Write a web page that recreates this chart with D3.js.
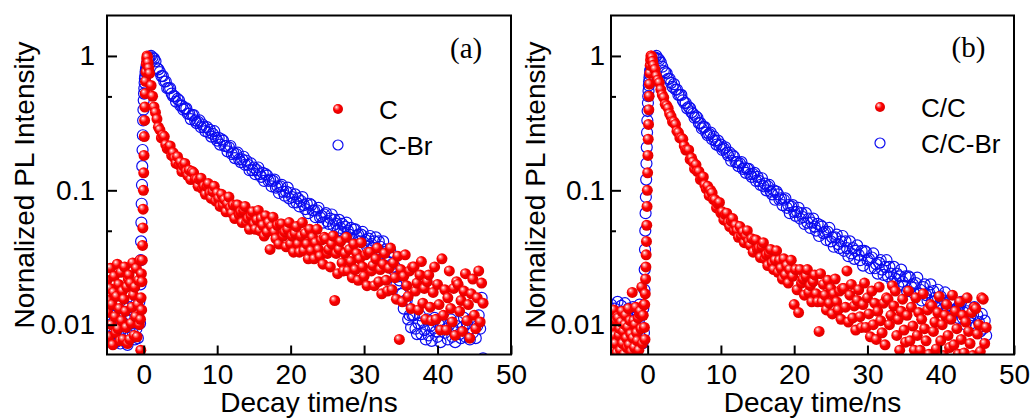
<!DOCTYPE html>
<html>
<head>
<meta charset="utf-8">
<title>PL decay</title>
<script src="https://d3js.org/d3.v7.min.js"></script>
<style>
  body { margin: 0; background: #fff; }
  svg { display: block; }
  .axis text { font-family: "Liberation Sans", Arial, sans-serif; font-size: 28px; fill: #000; }
  .axis line { stroke: #000; stroke-width: 2px; }
  .axis path { display: none; }
  .title { font-family: "Liberation Sans", Arial, sans-serif; font-size: 28px; fill: #000; }
  .legend { font-family: "Liberation Sans", Arial, sans-serif; font-size: 26px; fill: #000; }
  .letter { font-family: "Liberation Serif", "Times New Roman", serif; font-size: 29px; fill: #000; }
</style>
</head>
<body>
<svg id="chart" width="1033" height="419"></svg>
<script>
// time axis shared by all four decays (ns)
var times = [
  -5, -4.9, -4.8, -4.7, -4.6, -4.5, -4.4, -4.3, -4.2, -4.1, -4, -3.9, -3.8, -3.7, -3.6, -3.5,
  -3.4, -3.3, -3.2, -3.1, -3, -2.9, -2.8, -2.7, -2.6, -2.5, -2.4, -2.3, -2.2, -2.1, -2, -1.9,
  -1.8, -1.7, -1.6, -1.5, -1.4, -1.3, -1.2, -1.1, -1, -0.9, -0.8, -0.7, -0.6, -0.5,
  -0.44, -0.4, -0.36, -0.32, -0.28, -0.24, -0.2, -0.16, -0.12, -0.08, -0.04, 0, 0.04, 0.08, 0.12, 0.16,
  0.2, 0.25, 0.3, 0.35, 0.4, 0.45, 0.5, 0.6, 0.7,
  0.8, 1, 1.2, 1.4, 1.6, 1.8, 2, 2.2, 2.4, 2.6,
  2.8, 3, 3.2, 3.4, 3.6, 3.8, 4, 4.2, 4.4, 4.6,
  4.8, 5, 5.2, 5.4, 5.6, 5.8, 6, 6.2, 6.4, 6.6,
  6.8, 7, 7.2, 7.4, 7.6, 7.8, 8, 8.2, 8.4, 8.6,
  8.8, 9, 9.2, 9.4, 9.6, 9.8, 10, 10.2, 10.4, 10.6,
  10.8, 11, 11.2, 11.4, 11.6, 11.8, 12, 12.2, 12.4, 12.6,
  12.8, 13, 13.2, 13.4, 13.6, 13.8, 14, 14.2, 14.4, 14.6,
  14.8, 15, 15.2, 15.4, 15.6, 15.8, 16, 16.2, 16.4, 16.6,
  16.8, 17, 17.2, 17.4, 17.6, 17.8, 18, 18.2, 18.4, 18.6,
  18.8, 19, 19.2, 19.4, 19.6, 19.8, 20, 20.2, 20.4, 20.6,
  20.8, 21, 21.2, 21.4, 21.6, 21.8, 22, 22.2, 22.4, 22.6,
  22.8, 23, 23.2, 23.4, 23.6, 23.8, 24, 24.2, 24.4, 24.6,
  24.8, 25, 25.2, 25.4, 25.6, 25.8, 26, 26.2, 26.4, 26.6,
  26.8, 27, 27.2, 27.4, 27.6, 27.8, 28, 28.2, 28.4, 28.6,
  28.8, 29, 29.2, 29.4, 29.6, 29.8, 30, 30.2, 30.4, 30.6,
  30.8, 31, 31.2, 31.4, 31.6, 31.8, 32, 32.2, 32.4, 32.6,
  32.8, 33, 33.2, 33.4, 33.6, 33.8, 34, 34.2, 34.4, 34.6,
  34.8, 35, 35.2, 35.4, 35.6, 35.8, 36, 36.2, 36.4, 36.6,
  36.8, 37, 37.2, 37.4, 37.6, 37.8, 38, 38.2, 38.4, 38.6,
  38.8, 39, 39.2, 39.4, 39.6, 39.8, 40, 40.2, 40.4, 40.6,
  40.8, 41, 41.2, 41.4, 41.6, 41.8, 42, 42.2, 42.4, 42.6,
  42.8, 43, 43.2, 43.4, 43.6, 43.8, 44, 44.2, 44.4, 44.6,
  44.8, 45, 45.2, 45.4, 45.6, 45.8, 46, 46.2
];

// log10 of normalized PL intensity
// panel (a): C
var cLog = [
  -1.67, -1.91, -1.82, -2.09, -1.73, -1.58, -2.00, -1.85, -2.15, -1.76, -1.64, -1.94, -2.06, -1.79, -1.55, -2.03,
  -1.70, -1.88, -2.12, -1.61, -1.97, -1.75, -2.11, -1.81, -1.57, -1.90, -2.02, -1.72, -2.14, -1.66, -1.63, -2.11,
  -1.69, -1.99, -1.87, -1.54, -1.78, -2.08, -1.72, -1.94, -1.58, -2.09, -1.85, -1.67, -2.00, -1.52,
  -1.96, -2.19, -1.80, -1.62, -1.89, -1.68, -1.52, -1.41, -1.28, -1.14, -1.00, -0.87, -0.74, -0.60, -0.48, -0.38,
  -0.28, -0.19, -0.12, -0.06, -0.02, 0.00, -0.01, -0.05, -0.09,
  -0.13, -0.22, -0.30, -0.38, -0.42, -0.47, -0.53, -0.55, -0.61, -0.59,
  -0.60, -0.66, -0.69, -0.68, -0.67, -0.74, -0.72, -0.76, -0.80, -0.75,
  -0.81, -0.79, -0.86, -0.82, -0.80, -0.86, -0.89, -0.85, -0.92, -0.86,
  -0.87, -0.92, -0.92, -0.97, -0.92, -0.91, -0.99, -0.97, -1.03, -0.97,
  -0.95, -1.02, -1.06, -1.01, -0.97, -1.08, -1.02, -1.06, -1.12, -1.03,
  -1.11, -1.07, -1.16, -1.10, -1.05, -1.13, -1.17, -1.11, -1.21, -1.11,
  -1.11, -1.18, -1.16, -1.24, -1.15, -1.12, -1.24, -1.21, -1.29, -1.19,
  -1.16, -1.25, -1.29, -1.22, -1.15, -1.30, -1.21, -1.26, -1.34, -1.19,
  -1.31, -1.24, -1.44, -1.27, -1.20, -1.31, -1.36, -1.26, -1.40, -1.25,
  -1.25, -1.34, -1.31, -1.42, -1.29, -1.24, -1.40, -1.34, -1.46, -1.32,
  -1.27, -1.40, -1.46, -1.34, -1.24, -1.45, -1.32, -1.40, -1.51, -1.29,
  -1.45, -1.35, -1.51, -1.39, -1.29, -1.44, -1.49, -1.37, -1.55, -1.35,
  -1.36, -1.47, -1.44, -1.57, -1.40, -1.34, -1.82, -1.47, -1.62, -1.44,
  -1.38, -1.54, -1.60, -1.47, -1.35, -1.60, -1.44, -1.53, -1.65, -1.40,
  -1.59, -1.47, -1.67, -1.51, -1.39, -1.57, -1.64, -1.48, -1.71, -1.46,
  -1.46, -1.60, -1.56, -1.71, -1.51, -1.43, -1.68, -1.59, -1.77, -1.55,
  -1.47, -1.67, -1.75, -1.58, -1.43, -1.74, -1.54, -1.65, -1.81, -1.49,
  -2.11, -1.59, -1.83, -1.64, -1.48, -1.71, -1.79, -1.60, -1.88, -1.57,
  -1.57, -1.75, -1.69, -1.89, -1.63, -1.53, -1.84, -1.73, -1.96, -1.68,
  -1.63, -1.87, -1.97, -1.76, -1.57, -1.96, -1.70, -1.85, -2.04, -1.51,
  -1.93, -1.74, -2.04, -1.80, -1.60, -1.88, -1.98, -1.73, -2.08, -1.68,
  -1.70, -1.90, -1.82, -2.05, -1.75, -1.62, -1.97, -1.85, -2.10, -1.77,
  -1.66, -1.93, -2.03, -1.80, -1.60, -1.98, -1.69, -1.84
];

// panel (a): C-Br
var cBrLog = [
  -1.90, -2.05, -2.11, -1.97, -1.85, -2.09, -1.93, -2.02, -2.14, -1.88, -2.06, -1.95, -2.13, -1.98, -1.86, -2.02,
  -2.08, -1.93, -2.14, -1.90, -1.91, -2.03, -1.99, -2.12, -1.94, -1.87, -2.08, -2.00, -2.15, -1.96, -1.87, -2.02,
  -2.08, -1.94, -1.82, -2.06, -1.90, -1.99, -2.11, -1.85, -2.03, -1.92, -2.10, -1.95, -1.83, -1.99,
  -1.70, -1.52, -1.38, -1.24, -1.10, -0.96, -0.82, -0.70, -0.59, -0.48, -0.40, -0.33, -0.28, -0.24, -0.20, -0.17,
  -0.15, -0.12, -0.10, -0.09, -0.07, -0.06, -0.05, -0.03, -0.02,
  -0.01, 0.00, -0.01, -0.02, -0.04, -0.09, -0.10, -0.12, -0.15, -0.15,
  -0.19, -0.19, -0.24, -0.24, -0.24, -0.28, -0.30, -0.30, -0.34, -0.32,
  -0.33, -0.37, -0.37, -0.40, -0.39, -0.39, -0.43, -0.43, -0.47, -0.44,
  -0.44, -0.48, -0.50, -0.49, -0.48, -0.53, -0.51, -0.53, -0.56, -0.53,
  -0.57, -0.55, -0.60, -0.58, -0.56, -0.61, -0.63, -0.61, -0.66, -0.62,
  -0.63, -0.67, -0.67, -0.71, -0.68, -0.67, -0.73, -0.72, -0.76, -0.73,
  -0.72, -0.77, -0.79, -0.77, -0.75, -0.81, -0.78, -0.81, -0.85, -0.80,
  -0.85, -0.83, -0.88, -0.85, -0.83, -0.88, -0.90, -0.87, -0.93, -0.88,
  -0.89, -0.93, -0.92, -0.97, -0.93, -0.92, -0.98, -0.97, -1.02, -0.97,
  -0.96, -1.01, -1.04, -1.01, -0.98, -1.06, -1.02, -1.05, -1.09, -1.03,
  -1.09, -1.06, -1.12, -1.08, -1.05, -1.11, -1.14, -1.10, -1.17, -1.10,
  -1.11, -1.15, -1.15, -1.20, -1.15, -1.13, -1.20, -1.19, -1.24, -1.18,
  -1.17, -1.23, -1.25, -1.21, -1.18, -1.26, -1.22, -1.25, -1.30, -1.22,
  -1.28, -1.25, -1.32, -1.27, -1.24, -1.30, -1.33, -1.28, -1.36, -1.29,
  -1.29, -1.34, -1.33, -1.38, -1.33, -1.31, -1.39, -1.37, -1.42, -1.36,
  -1.34, -1.40, -1.43, -1.38, -1.35, -1.44, -1.38, -1.42, -1.47, -1.38,
  -1.46, -1.44, -1.53, -1.49, -1.46, -1.55, -1.59, -1.57, -1.70, -1.64,
  -1.67, -1.77, -1.77, -1.88, -1.82, -1.82, -1.96, -1.93, -2.02, -1.93,
  -1.93, -2.03, -2.07, -1.99, -1.93, -2.07, -1.98, -2.04, -2.11, -1.96,
  -2.08, -2.01, -2.12, -2.03, -1.95, -2.05, -2.09, -2.00, -2.13, -1.98,
  -1.99, -2.06, -2.03, -2.11, -2.00, -1.96, -2.09, -2.04, -2.13, -2.01,
  -1.98, -2.07, -2.10, -2.02, -1.95, -2.09, -1.99, -2.04, -2.11, -1.96,
  -2.06, -1.99, -2.10, -2.01, -1.93, -2.03, -1.80, -2.25
];

// panel (b): C/C
var ccLog = [
  -2.12, -1.99, -2.19, -2.02, -1.89, -2.08, -2.14, -1.97, -2.21, -1.94, -1.95, -2.08, -2.03, -2.19, -1.98, -1.90,
  -2.14, -2.05, -2.22, -2.00, -1.93, -2.10, -2.17, -2.02, -1.88, -2.15, -1.97, -2.07, -2.20, -1.76, -2.10, -1.97,
  -2.17, -2.00, -1.87, -2.06, -2.12, -1.95, -2.19, -1.92, -1.90, -2.03, -1.72, -2.14, -1.93, -1.85,
  -2.02, -1.85, -2.11, -1.77, -1.66, -1.57, -1.48, -1.38, -1.26, -1.12, -1.00, -0.87, -0.74, -0.62, -0.51, -0.40,
  -0.30, -0.21, -0.13, -0.07, -0.03, 0.00, 0.00, -0.01, -0.04,
  -0.07, -0.10, -0.15, -0.18, -0.20, -0.25, -0.29, -0.31, -0.36, -0.37,
  -0.39, -0.43, -0.45, -0.49, -0.49, -0.51, -0.56, -0.57, -0.61, -0.61,
  -0.62, -0.67, -0.70, -0.70, -0.70, -0.77, -0.76, -0.79, -0.84, -0.81,
  -0.86, -0.86, -0.92, -0.91, -0.90, -0.96, -0.99, -0.97, -1.04, -1.00,
  -1.02, -1.07, -1.07, -1.13, -1.10, -1.09, -1.17, -1.16, -1.22, -1.18,
  -1.17, -1.24, -1.27, -1.23, -1.21, -1.30, -1.26, -1.30, -1.35, -1.27,
  -1.34, -1.31, -1.39, -1.34, -1.30, -1.38, -1.41, -1.36, -1.46, -1.37,
  -1.37, -1.44, -1.43, -1.50, -1.42, -1.39, -1.51, -1.48, -1.56, -1.47,
  -1.44, -1.54, -1.59, -1.52, -1.45, -1.61, -1.52, -1.58, -1.66, -1.51,
  -1.63, -1.56, -1.69, -1.59, -1.52, -1.64, -1.85, -1.59, -1.74, -1.91,
  -1.59, -1.69, -1.66, -1.78, -1.64, -1.59, -1.76, -1.71, -1.83, -1.68,
  -1.63, -1.77, -1.83, -2.05, -1.62, -1.83, -1.70, -1.78, -1.89, -1.67,
  -1.84, -1.73, -1.92, -1.77, -1.66, -1.83, -1.89, -1.75, -1.96, -1.73,
  -1.73, -1.87, -1.60, -1.98, -1.78, -1.70, -1.95, -1.86, -2.04, -1.82,
  -1.74, -1.94, -2.02, -1.85, -1.69, -2.02, -1.80, -1.92, -2.09, -1.75,
  -2.00, -1.84, -2.11, -1.90, -1.72, -1.97, -2.06, -1.84, -2.15, -1.80,
  -1.81, -2.00, -1.93, -1.71, -1.86, -1.75, -2.08, -1.96, -2.19, -1.90,
  -1.81, -2.04, -2.13, -1.93, -1.75, -2.12, -1.87, -2.01, -2.19, -1.80,
  -2.08, -1.91, -2.19, -1.96, -1.77, -2.03, -2.12, -1.89, -2.22, -1.85,
  -1.86, -2.05, -1.98, -2.18, -1.91, -1.79, -2.12, -2.00, -2.23, -1.93,
  -1.85, -2.08, -2.17, -1.96, -1.78, -2.15, -1.90, -2.03, -2.22, -1.83,
  -2.11, -1.93, -2.21, -1.98, -1.80, -2.05, -2.14, -1.91, -2.23, -1.87,
  -1.88, -2.07, -2.00, -2.20, -1.80, -1.81, -2.14, -2.02
];

// panel (b): C/C-Br
var ccBrLog = [
  -1.85, -2.06, -1.98, -2.13, -1.94, -1.88, -2.03, -2.09, -1.95, -1.83, -2.07, -1.91, -2.00, -2.12, -1.86, -2.04,
  -1.93, -2.11, -1.96, -1.84, -2.00, -2.06, -1.91, -2.12, -1.88, -1.91, -2.03, -1.99, -2.12, -1.94, -1.87, -2.08,
  -2.00, -2.15, -1.96, -1.90, -2.05, -2.11, -1.97, -1.85, -2.09, -1.93, -2.02, -2.14, -1.88, -2.06,
  -1.74, -1.59, -1.44, -1.30, -1.17, -1.05, -0.92, -0.80, -0.68, -0.57, -0.48, -0.41, -0.35, -0.30, -0.26, -0.22,
  -0.19, -0.16, -0.14, -0.11, -0.10, -0.08, -0.07, -0.05, -0.03,
  -0.01, -0.01, 0.00, -0.02, -0.03, -0.05, -0.08, -0.11, -0.12, -0.13,
  -0.17, -0.17, -0.20, -0.23, -0.21, -0.25, -0.25, -0.29, -0.29, -0.29,
  -0.33, -0.35, -0.35, -0.39, -0.38, -0.39, -0.42, -0.43, -0.46, -0.45,
  -0.46, -0.50, -0.50, -0.54, -0.53, -0.53, -0.57, -0.59, -0.58, -0.57,
  -0.62, -0.60, -0.63, -0.66, -0.63, -0.67, -0.66, -0.70, -0.69, -0.68,
  -0.72, -0.74, -0.72, -0.78, -0.74, -0.75, -0.79, -0.79, -0.82, -0.80,
  -0.79, -0.84, -0.83, -0.87, -0.84, -0.84, -0.88, -0.90, -0.88, -0.87,
  -0.93, -0.90, -0.93, -0.96, -0.91, -0.97, -0.95, -1.00, -0.97, -0.96,
  -1.01, -1.03, -1.00, -1.07, -1.01, -1.03, -1.07, -1.06, -1.11, -1.07,
  -1.06, -1.13, -1.11, -1.17, -1.12, -1.11, -1.16, -1.19, -1.16, -1.13,
  -1.21, -1.17, -1.20, -1.25, -1.17, -1.24, -1.21, -1.28, -1.24, -1.21,
  -1.27, -1.30, -1.25, -1.34, -1.26, -1.27, -1.32, -1.31, -1.37, -1.31,
  -1.28, -1.38, -1.35, -1.42, -1.35, -1.33, -1.40, -1.43, -1.38, -1.34,
  -1.45, -1.38, -1.43, -1.49, -1.38, -1.47, -1.43, -1.51, -1.45, -1.41,
  -1.48, -1.52, -1.45, -1.56, -1.45, -1.46, -1.52, -1.51, -1.58, -1.50,
  -1.47, -1.58, -1.55, -1.62, -1.54, -1.52, -1.59, -1.63, -1.57, -1.52,
  -1.64, -1.57, -1.62, -1.68, -1.57, -1.66, -1.62, -1.71, -1.64, -1.59,
  -1.68, -1.71, -1.64, -1.75, -1.64, -1.65, -1.72, -1.70, -1.77, -1.69,
  -1.65, -1.77, -1.74, -1.82, -1.72, -1.70, -1.78, -1.82, -1.76, -1.70,
  -1.83, -1.75, -1.80, -1.87, -1.74, -1.85, -1.79, -1.89, -1.82, -1.76,
  -1.86, -1.89, -1.82, -1.94, -1.82, -1.83, -1.90, -1.88, -1.95, -1.86,
  -1.83, -1.95, -1.91, -2.00, -1.90, -1.87, -1.95, -1.99, -1.93, -1.87,
  -2.01, -1.93, -1.98, -2.05, -1.92, -2.03, -1.97, -2.08
];

var panelLetters = ["(a)", "(b)"];
var redNames = ["C", "C/C"];
var blueNames = ["C-Br", "C/C-Br"];
var xTicks = [0, 10, 20, 30, 40, 50];
var yTicks = [0.01, 0.1, 1];
var yMinorTicks = [0.05, 0.5];

var plotTop = 15.5, plotBottom = 354.5;
var panels = [
  { left: 107, right: 511, red: cLog, blue: cBrLog, pad: 12, ylab: 34, legX: 231, legY: 109, letterX: 343, letterY: 58 },
  { left: 611, right: 1014, red: ccLog, blue: ccBrLog, pad: 6, ylab: 545, legX: 269, legY: 107, letterX: 340.5, letterY: 57 }
];

var svg = d3.select("#chart");
var defs = svg.append("defs");
var grad = defs.append("radialGradient")
  .attr("id", "ball")
  .attr("cx", "0.45").attr("cy", "0.42").attr("r", "0.6")
  .attr("fx", "0.33").attr("fy", "0.3");
grad.append("stop").attr("offset", "0").attr("stop-color", "#ffffff");
grad.append("stop").attr("offset", "0.22").attr("stop-color", "#ff8080");
grad.append("stop").attr("offset", "0.5").attr("stop-color", "#ff0000");
grad.append("stop").attr("offset", "1").attr("stop-color", "#d80000");

var y = d3.scaleLog().domain([0.006, 2]).range([plotBottom, plotTop]);
function yv(v) { return y(Math.pow(10, v)); }

panels.forEach(function(p, i) {
  var x = d3.scaleLinear().domain([-5, 50]).range([p.left, p.right]);
  var g = svg.append("g");

  defs.append("clipPath").attr("id", "clip" + i)
    .append("rect")
      .attr("x", p.left).attr("y", plotTop)
      .attr("width", p.right - p.left).attr("height", plotBottom - plotTop);

  var plot = g.append("g").attr("clip-path", "url(#clip" + i + ")");

  plot.append("g").selectAll("circle")
    .data(times)
    .enter().append("circle")
      .attr("cx", function(d) { return x(d); })
      .attr("cy", function(d, j) { return yv(p.blue[j]); })
      .attr("r", 5.5)
      .attr("fill", "none")
      .attr("stroke", "#0c0cf0")
      .attr("stroke-width", 1.2);

  plot.append("g").selectAll("circle")
    .data(times)
    .enter().append("circle")
      .attr("cx", function(d) { return x(d); })
      .attr("cy", function(d, j) { return yv(p.red[j]); })
      .attr("r", 5.5)
      .attr("fill", "url(#ball)");

  // frame
  g.append("rect")
    .attr("x", p.left).attr("y", plotTop)
    .attr("width", p.right - p.left).attr("height", plotBottom - plotTop)
    .attr("fill", "none").attr("stroke", "#000").attr("stroke-width", 2);

  // axes, ticks pointing inward
  g.append("g").attr("class", "axis")
    .attr("transform", "translate(0," + plotBottom + ")")
    .call(d3.axisBottom(x).tickValues(xTicks).tickSize(-9).tickSizeOuter(0).tickPadding(10)
      .tickFormat(d3.format("d")));

  g.append("g").attr("class", "axis")
    .attr("transform", "translate(" + p.left + ",0)")
    .call(d3.axisLeft(y).tickValues(yTicks).tickSize(-10).tickSizeOuter(0).tickPadding(p.pad)
      .tickFormat(function(d) { return String(d); }));

  g.append("g").attr("class", "axis")
    .attr("transform", "translate(" + p.left + ",0)")
    .call(d3.axisLeft(y).tickValues(yMinorTicks).tickSize(-5).tickSizeOuter(0).tickFormat(""));

  // axis titles
  g.append("text").attr("class", "title")
    .attr("x", (p.left + p.right) / 2).attr("y", 412)
    .attr("text-anchor", "middle")
    .text("Decay time/ns");

  g.append("text").attr("class", "title")
    .attr("transform", "translate(" + p.ylab + "," + ((plotTop + plotBottom) / 2) + ") rotate(-90)")
    .attr("text-anchor", "middle")
    .text("Nornalized PL Intensity");

  // panel letter
  g.append("text").attr("class", "letter")
    .attr("x", p.left + p.letterX).attr("y", p.letterY)
    .text(panelLetters[i]);

  // legend
  var lx = p.left + p.legX;
  g.append("circle").attr("cx", lx).attr("cy", p.legY).attr("r", 5).attr("fill", "url(#ball)");
  g.append("circle").attr("cx", lx).attr("cy", p.legY + 36).attr("r", 5)
    .attr("fill", "none").attr("stroke", "#0c0cf0").attr("stroke-width", 1.2);
  g.append("text").attr("class", "legend")
    .attr("x", lx + 41).attr("y", p.legY + 10).text(redNames[i]);
  g.append("text").attr("class", "legend")
    .attr("x", lx + 41).attr("y", p.legY + 46).text(blueNames[i]);
});
</script>
</body>
</html>
